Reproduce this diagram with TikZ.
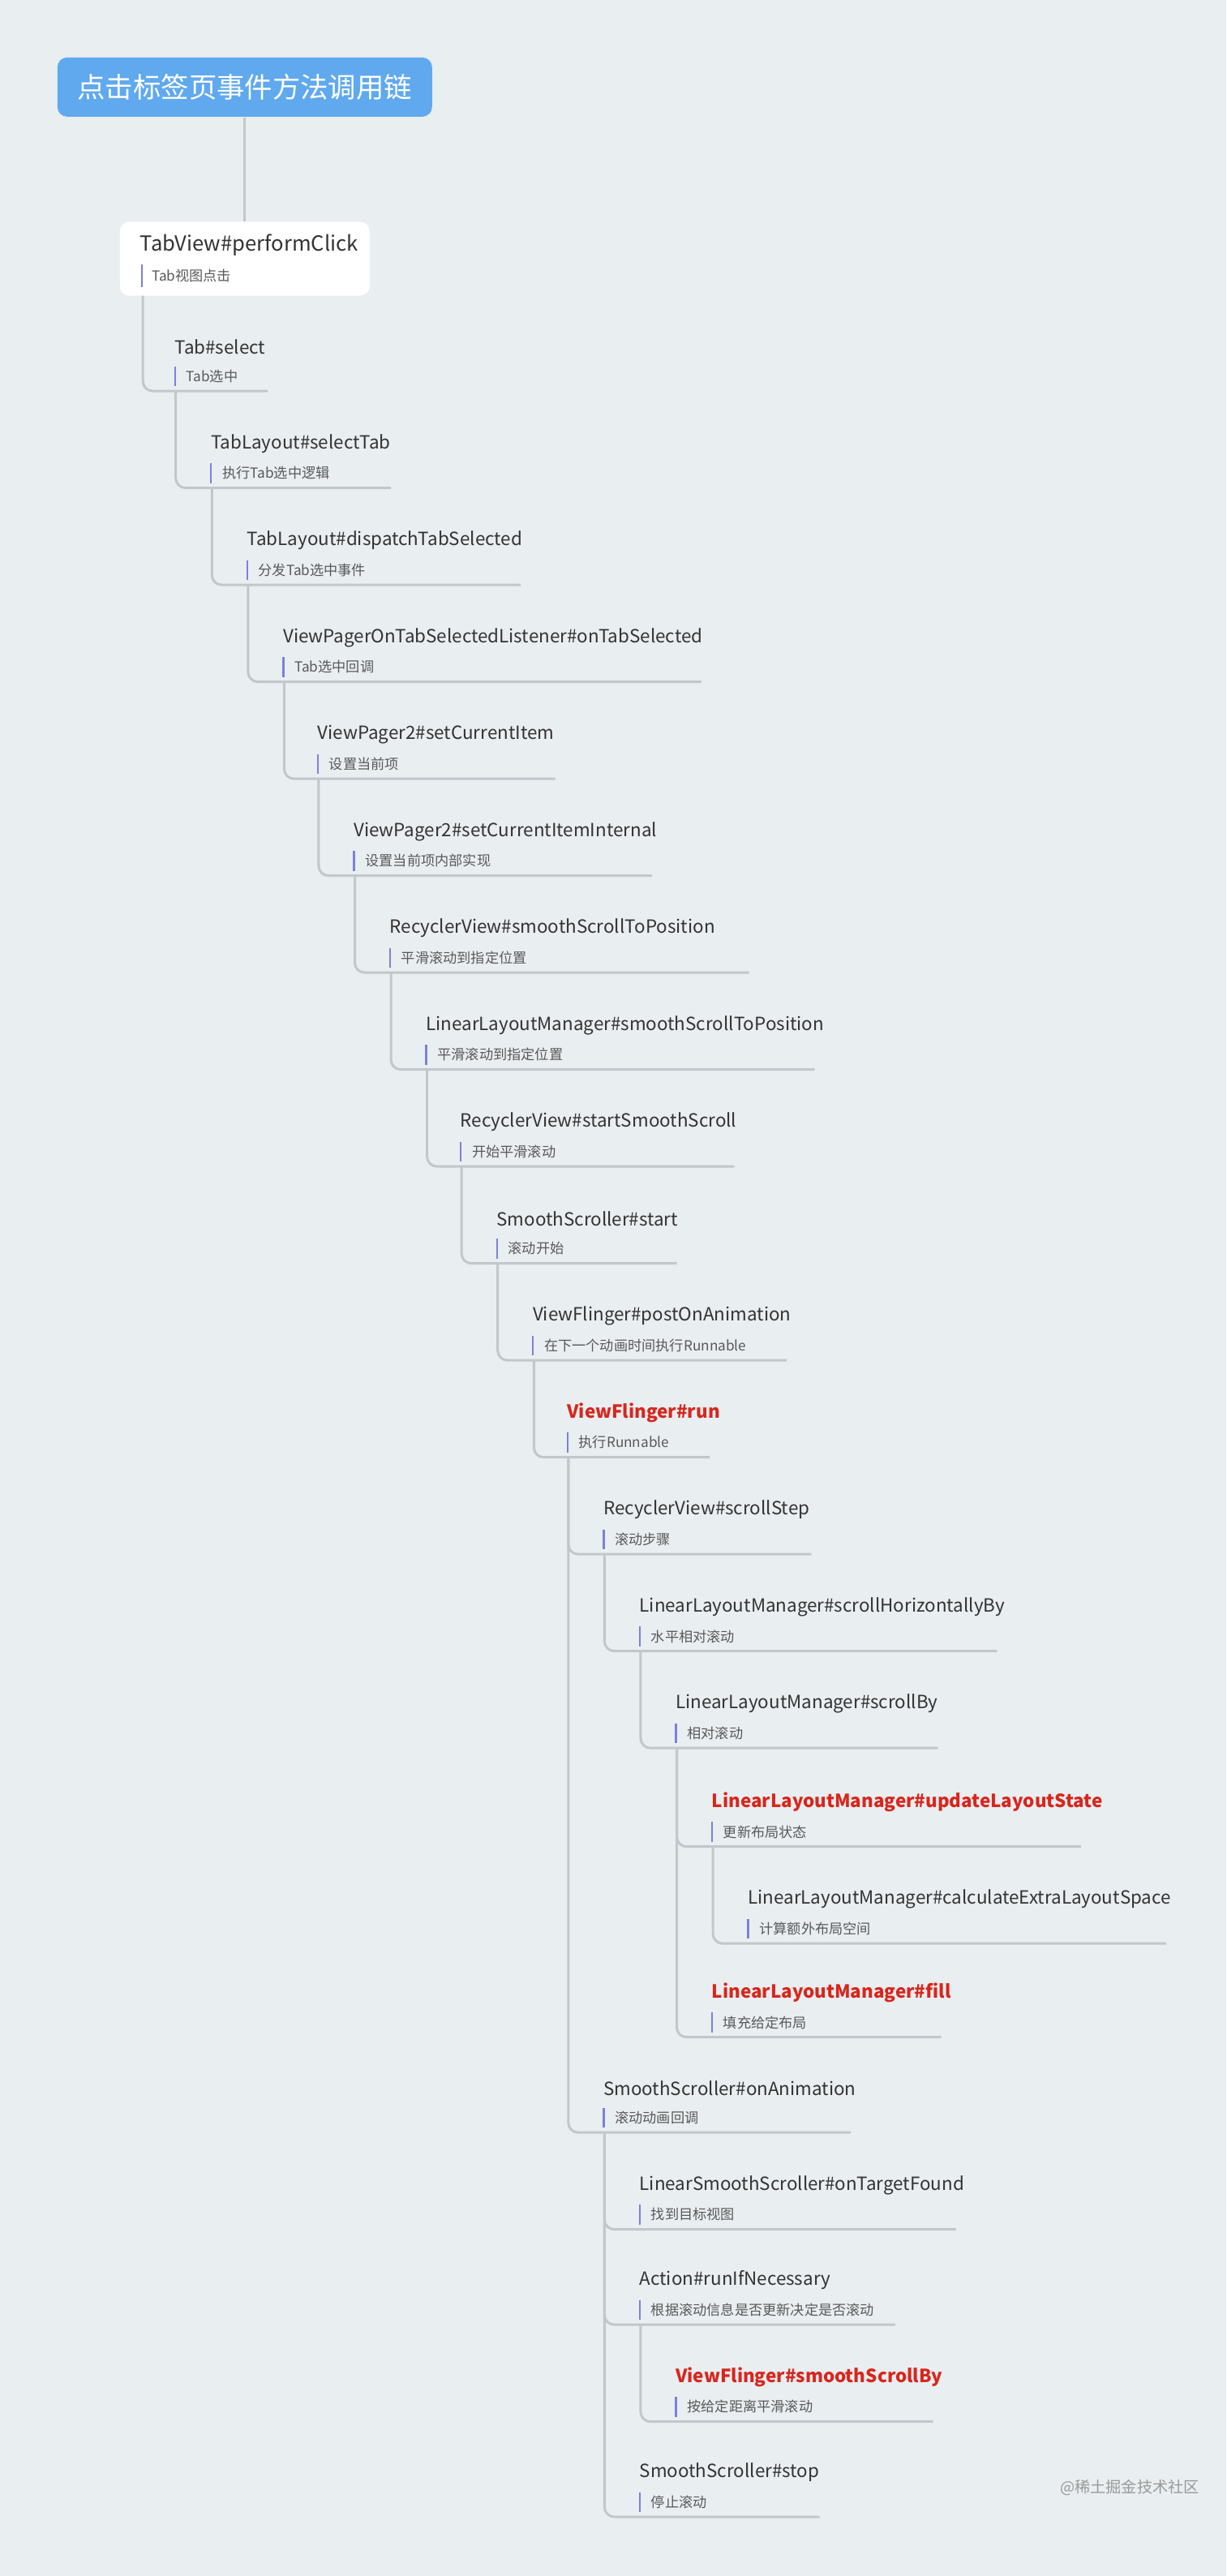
\documentclass[tikz,border=0pt]{standalone}
\usepackage{fontspec}
\setmainfont{Noto Sans CJK SC}
\definecolor{bgcol}{HTML}{E9EEF1}
\definecolor{linkcol}{HTML}{C3C7CC}
\definecolor{barcol}{HTML}{7E80DA}
\definecolor{hotcol}{HTML}{D8261C}
\definecolor{rootcol}{HTML}{60A9EF}
\tikzset{every picture/.style={line width=0.75pt}}
\tikzset{
  title/.style={inner sep=0pt,font=\fontsize{11.2}{13}\selectfont,text=black!80},
  hot/.style={text=hotcol,font=\fontsize{11.2}{13}\selectfont\bfseries},
  sub/.style={inner sep=0pt,font=\fontsize{8.6}{10}\selectfont,text=black!65},
  bar/.style={draw=barcol,line width=1.2pt},
  link/.style={draw=linkcol,line width=1.5pt,rounded corners=6pt},
}
% #1 name, #2 parent, #3 x, #4 title y, #5 underline end, #6 title, #7 sub, #8 title style
\newcommand\callitem[8]{%
  \node[title,#8,anchor=west] (#1) at (#3,#4) {#6};
  \node[sub,anchor=west] (#1-s) at (#3+14,#4+36) {#7};
  \draw[bar] (#3+1,#4+24) -- (#3+1,#4+48);
  \coordinate (#1-b) at (#3+2,#4+54);
  \coordinate (#1-e) at (#5,#4+54);
  \draw[link] (#2-b) |- (#1-e);
}

\begin{document}
\begin{tikzpicture}[x=0.5064pt,y=-0.5064pt]
    \fill[bgcol] (0,0) rectangle (1493,3136);
    \useasboundingbox (0,0) rectangle (1493,3136);

    % root
    \node[fill=rootcol,rounded corners=6pt,minimum width=231pt,minimum height=36.5pt,
      text=white,font=\fontsize{17.2}{20}\selectfont] (root) at (298,106) {点击标签页事件方法调用链};
    % first call
    \node[fill=white,rounded corners=6pt,minimum width=154pt,minimum height=45.6pt] (tv) at (298,315) {};
    \draw[draw=linkcol,line width=1.5pt] (root.south) -- (tv.north);
    \node[title,anchor=west,font=\fontsize{12.8}{15}\selectfont] (tv-t) at (170,298) {TabView\#performClick};
    \node[sub,anchor=west] (tv-s) at (184,336) {Tab视图点击};
    \draw[bar] (173,322) -- (173,350);
    \coordinate (tv-b) at (174,360);

    \callitem{tsel}{tv}{212}{422}{326}{Tab\#select}{Tab选中}{}
    \callitem{tlsel}{tsel}{256}{540}{476}{TabLayout\#selectTab}{执行Tab选中逻辑}{}
    \callitem{tldisp}{tlsel}{300}{658}{634}{TabLayout\#dispatchTabSelected}{分发Tab选中事件}{}
    \callitem{vpl}{tldisp}{344}{776}{854}{ViewPagerOnTabSelectedListener\#onTabSelected}{Tab选中回调}{}
    \callitem{vpset}{vpl}{386}{894}{676}{ViewPager2\#setCurrentItem}{设置当前项}{}
    \callitem{vpint}{vpset}{430}{1012}{794}{ViewPager2\#setCurrentItemInternal}{设置当前项内部实现}{}
    \callitem{rvsmooth}{vpint}{474}{1130}{912}{RecyclerView\#smoothScrollToPosition}{平滑滚动到指定位置}{}
    \callitem{llmsmooth}{rvsmooth}{518}{1248}{992}{LinearLayoutManager\#smoothScrollToPosition}{平滑滚动到指定位置}{}
    \callitem{rvstart}{llmsmooth}{560}{1366}{894}{RecyclerView\#startSmoothScroll}{开始平滑滚动}{}
    \callitem{ssstart}{rvstart}{604}{1484}{824}{SmoothScroller\#start}{滚动开始}{}
    \callitem{vfpost}{ssstart}{648}{1602}{958}{ViewFlinger\#postOnAnimation}{在下一个动画时间执行Runnable}{}
    \callitem{vfrun}{vfpost}{690}{1720}{864}{ViewFlinger\#run}{执行Runnable}{hot}
    \callitem{rvstep}{vfrun}{734}{1838}{988}{RecyclerView\#scrollStep}{滚动步骤}{}
    \callitem{llmhoriz}{rvstep}{778}{1956}{1214}{LinearLayoutManager\#scrollHorizontallyBy}{水平相对滚动}{}
    \callitem{llmby}{llmhoriz}{822}{2074}{1142}{LinearLayoutManager\#scrollBy}{相对滚动}{}
    \callitem{llmupd}{llmby}{866}{2194}{1316}{LinearLayoutManager\#updateLayoutState}{更新布局状态}{hot}
    \callitem{llmcalc}{llmupd}{910}{2312}{1420}{LinearLayoutManager\#calculateExtraLayoutSpace}{计算额外布局空间}{}
    \callitem{llmfill}{llmby}{866}{2426}{1146}{LinearLayoutManager\#fill}{填充给定布局}{hot}
    \callitem{ssanim}{vfrun}{734}{2542}{1036}{SmoothScroller\#onAnimation}{滚动动画回调}{}
    \callitem{lsstarget}{ssanim}{778}{2660}{1164}{LinearSmoothScroller\#onTargetFound}{找到目标视图}{}
    \callitem{actrun}{ssanim}{778}{2776}{1090}{Action\#runIfNecessary}{根据滚动信息是否更新决定是否滚动}{}
    \callitem{vfsmooth}{actrun}{822}{2894}{1136}{ViewFlinger\#smoothScrollBy}{按给定距离平滑滚动}{hot}
    \callitem{ssstop}{ssanim}{778}{3010}{998}{SmoothScroller\#stop}{停止滚动}{}

    % watermark
    \node[anchor=west,inner sep=0pt,text=black!40,font=\fontsize{9.6}{11}\selectfont] (mark) at (1290,3028) {@稀土掘金技术社区};
\end{tikzpicture}
\end{document}
